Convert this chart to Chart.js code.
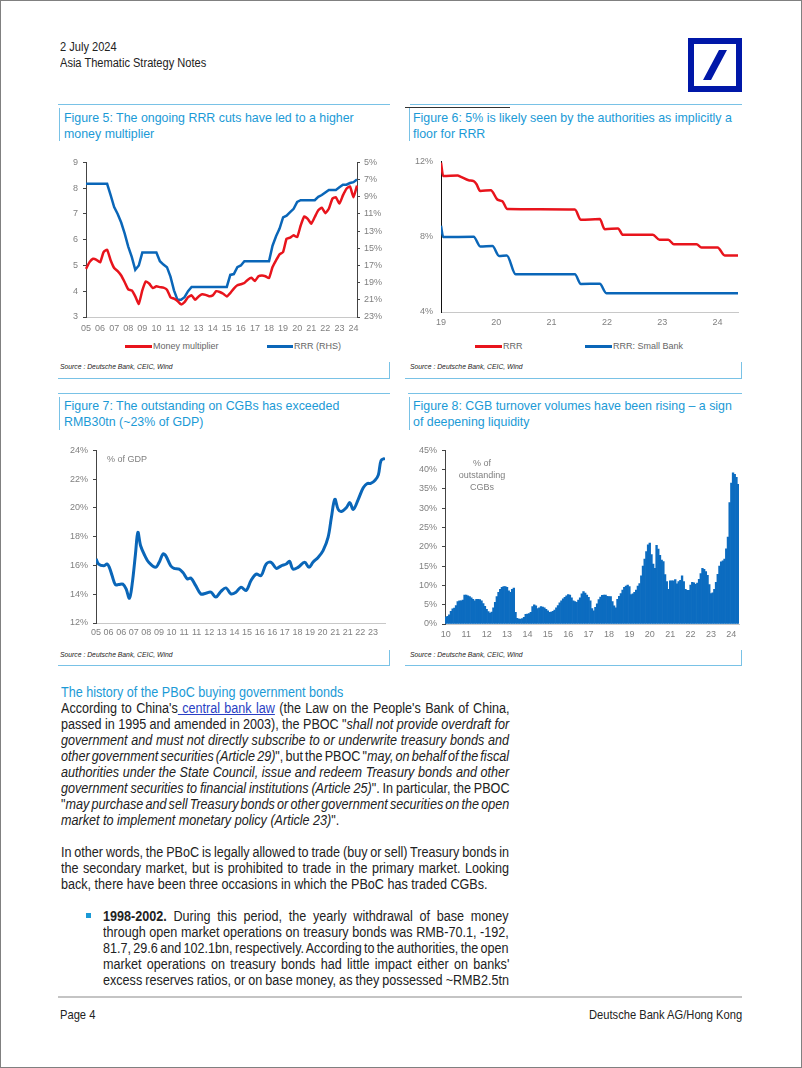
<!DOCTYPE html>
<html>
<head>
<meta charset="utf-8">
<script src="https://cdn.jsdelivr.net/npm/chart.js@4.4.1/dist/chart.umd.min.js"></script>
<style>
html, body { margin: 0; padding: 0; background: #fff; }
body { width: 802px; height: 1068px; position: relative; overflow: hidden; font-family: "Liberation Sans", Arial, sans-serif; color: #222; }
.frame { position: absolute; left: 0; top: 0; width: 800px; height: 1066px; border: 1px solid #808080; }
.abs { position: absolute; }
.cond { transform: scaleX(0.9); transform-origin: 0 0; white-space: nowrap; }
.hl { position: absolute; height: 1px; background: #79c2e6; }
.vl { position: absolute; width: 1px; background: #79c2e6; }
.ptitle { position: absolute; color: #1b9ad6; font-size: 12.4px; line-height: 16px; white-space: nowrap; }
.src { position: absolute; font-style: italic; font-size: 6.8px; line-height: 9px; color: #222; white-space: nowrap; }
.lg { position: absolute; height: 3px; }
.lgt { position: absolute; font-size: 9px; line-height: 12px; color: #666; white-space: nowrap; }
.note { position: absolute; font-size: 9px; line-height: 12px; color: #808080; text-align: center; white-space: nowrap; }
canvas { position: absolute; }
.text { position: absolute; font-size: 14px; line-height: 16px; color: #222; transform: scaleX(0.9); transform-origin: 0 0; white-space: nowrap; }
.text i { font-style: italic; }
.text a { color: #2a3fc4; text-decoration: underline; }
</style>
</head>
<body>
<div class="frame"></div>

<!-- header -->
<div class="abs cond" style="left:60px;top:39px;font-size:12.3px;line-height:16px;">2 July 2024</div>
<div class="abs cond" style="left:60px;top:55px;font-size:12.3px;line-height:16px;">Asia Thematic Strategy Notes</div>
<svg class="abs" style="left:688px;top:38px" width="54" height="54">
  <rect x="3" y="3" width="48" height="48" fill="none" stroke="#0018a8" stroke-width="6"/>
  <polygon points="15,42 23,42 39,12 31,12" fill="#0018a8"/>
</svg>

<!-- Figure 5 -->
<div class="hl" style="left:58px;top:104px;width:332px"></div>
<div class="vl" style="left:59px;top:108px;height:33px"></div>
<div class="ptitle" style="left:64px;top:110px">Figure 5: The ongoing RRR cuts have led to a higher<br>money multiplier</div>
<canvas id="fig5" width="330" height="185" style="left:62px;top:152px"></canvas>
<div class="lg" style="left:125px;top:345px;width:27px;background:#e8141c"></div>
<div class="lgt" style="left:153px;top:340px">Money multiplier</div>
<div class="lg" style="left:267px;top:345px;width:26px;background:#0a66b8"></div>
<div class="lgt" style="left:294px;top:340px">RRR (RHS)</div>
<div class="src" style="left:60px;top:362px">Source : Deutsche Bank, CEIC, Wind</div>
<div class="hl" style="left:58px;top:378px;width:332px"></div>
<div class="vl" style="left:389px;top:362px;height:16px"></div>

<!-- Figure 6 -->
<div class="hl" style="left:410px;top:104px;width:332px"></div>
<div class="abs" style="left:405px;top:107px;width:105px;height:1px;background:#333"></div>
<div class="vl" style="left:409px;top:108px;height:33px"></div>
<div class="ptitle" style="left:413px;top:110px">Figure 6: 5% is likely seen by the authorities as implicitly a<br>floor for RRR</div>
<canvas id="fig6" width="332" height="189" style="left:412px;top:148px"></canvas>
<div class="lg" style="left:475px;top:345px;width:27px;background:#e8141c"></div>
<div class="lgt" style="left:503px;top:340px">RRR</div>
<div class="lg" style="left:585px;top:345px;width:27px;background:#0a66b8"></div>
<div class="lgt" style="left:613px;top:340px">RRR: Small Bank</div>
<div class="src" style="left:410px;top:362px">Source : Deutsche Bank, CEIC, Wind</div>
<div class="hl" style="left:405px;top:378px;width:337px"></div>
<div class="vl" style="left:741px;top:362px;height:16px"></div>

<!-- Figure 7 -->
<div class="hl" style="left:58px;top:393px;width:332px"></div>
<div class="vl" style="left:59px;top:397px;height:33px"></div>
<div class="ptitle" style="left:64px;top:398px">Figure 7: The outstanding on CGBs has exceeded<br>RMB30tn (~23% of GDP)</div>
<canvas id="fig7" width="330" height="200" style="left:62px;top:440px"></canvas>
<div class="note" style="left:107px;top:453px;text-align:left">% of GDP</div>
<div class="src" style="left:60px;top:650px">Source : Deutsche Bank, CEIC, Wind</div>
<div class="hl" style="left:58px;top:665px;width:332px"></div>
<div class="vl" style="left:389px;top:650px;height:15px"></div>

<!-- Figure 8 -->
<div class="hl" style="left:408px;top:393px;width:334px"></div>
<div class="vl" style="left:409px;top:397px;height:33px"></div>
<div class="ptitle" style="left:413px;top:398px">Figure 8: CGB turnover volumes have been rising – a sign<br>of deepening liquidity</div>
<canvas id="fig8" width="332" height="200" style="left:412px;top:440px"></canvas>
<div class="note" style="left:452px;top:457px;width:60px">% of<br>outstanding<br>CGBs</div>
<div class="src" style="left:410px;top:650px">Source : Deutsche Bank, CEIC, Wind</div>
<div class="hl" style="left:405px;top:665px;width:337px"></div>
<div class="vl" style="left:741px;top:650px;height:15px"></div>

<!-- body text: column 61..509 (widths are before the 0.9 horizontal scale) -->
<div class="text" style="left:61px;top:684px;width:497.8px">
  <div style="color:#1b9ad6">The history of the PBoC buying government bonds</div>
  <div class="jl">According to China's<a> central bank law</a> (the Law on the People's Bank of China,</div>
  <div class="jl">passed in 1995 and amended in 2003), the PBOC "<i>shall not provide overdraft for</i></div>
  <div class="jl"><i>government and must not directly subscribe to or underwrite treasury bonds and</i></div>
  <div class="jl"><i>other government securities (Article 29)</i>", but the PBOC "<i>may, on behalf of the fiscal</i></div>
  <div class="jl"><i>authorities under the State Council, issue and redeem Treasury bonds and other</i></div>
  <div class="jl"><i>government securities to financial institutions (Article 25)</i>". In particular, the PBOC</div>
  <div class="jl">"<i>may purchase and sell Treasury bonds or other government securities on the open</i></div>
  <div><i>market to implement monetary policy (Article 23)</i>".</div>
  <div style="height:16px"></div>
  <div class="jl">In other words, the PBoC is legally allowed to trade (buy or sell) Treasury bonds in</div>
  <div class="jl">the secondary market, but is prohibited to trade in the primary market. Looking</div>
  <div>back, there have been three occasions in which the PBoC has traded CGBs.</div>
</div>
<div class="abs" style="left:86px;top:913px;width:5px;height:5px;background:#1b9ad6"></div>
<div class="text" style="left:103px;top:908px;width:451.1px">
  <div class="jl"><b>1998-2002.</b> During this period, the yearly withdrawal of base money</div>
  <div class="jl">through open market operations on treasury bonds was RMB-70.1, -192,</div>
  <div class="jl">81.7, 29.6 and 102.1bn, respectively. According to the authorities, the open</div>
  <div class="jl">market operations on treasury bonds had little impact either on banks'</div>
  <div class="jl">excess reserves ratios, or on base money, as they possessed ~RMB2.5tn</div>
</div>

<!-- footer -->
<div class="abs" style="left:58px;top:996px;width:684px;height:2px;background:#c4c4c4"></div>
<div class="abs cond" style="left:60px;top:1007px;font-size:12.4px;line-height:16px;">Page 4</div>
<div class="abs cond" style="right:60px;top:1007px;font-size:12.4px;line-height:16px;transform-origin:100% 0;">Deutsche Bank AG/Hong Kong</div>

<script>
// Figure 5: money multiplier and RRR, quarterly 2005Q1 - 2024Q2
const mmValues = [
  4.87, 5.13, 5.26, 5.22,  5.12, 5.52, 5.61, 5.2,   4.9, 4.78, 4.61, 4.35,
  4.07, 4.03, 3.8, 3.51,   4.03, 4.38, 4.29, 4.12,  4.19, 4.16, 4.14, 4.06,
  3.77, 3.71, 3.62, 3.49,  3.58, 3.77, 3.84, 3.67,  3.8, 3.88, 3.86, 3.81,
  3.84, 4.0, 3.97, 3.9,    3.8, 3.93, 4.1, 4.23,    4.27, 4.32, 4.45, 4.52,
  4.4, 4.58, 4.61, 4.58,   4.51, 4.94, 5.2, 5.43,   5.52, 6.04, 6.08, 6.17,
  6.1, 6.55, 6.9, 6.81,    6.62, 6.88, 7.14, 7.24,  7.03, 7.2, 7.59, 7.65,
  7.4, 7.72, 7.98, 8.07,   7.65, 8.1
];
const rrrValues = [
  7.5, 7.5, 7.5, 7.5,      7.5, 7.5, 7.5, 8.8,      10.2, 11, 12, 13.3,
  14.8, 16, 17.5, 17,      15.5, 15.5, 15.5, 15.5,  15.5, 16.5, 16.9, 17.2,
  18.3, 19.9, 21, 21,      20.7, 20, 19.5, 19.5,    19.5, 19.5, 19.5, 19.5,
  19.5, 19.5, 19.5, 19.5,  19.5, 18.1, 18, 17.2,    17, 16.5, 16.5, 16.5,
  16.5, 16.5, 16.5, 16.5,  16.5, 14.7, 13.6, 12.7,  11.4, 11.2, 10.8, 10.4,
  9.6, 9.4, 9.4, 9.4,      9.4, 9.4, 9.0, 8.8,      8.5, 8.2, 8.2, 8.2,
  7.9, 7.6, 7.6, 7.4,      7.3, 7.0
];

// Figure 6: RRR since 2019 (x in decimal years)
const rrrDates = [2019.0, 2019.04, 2019.3, 2019.36, 2019.5, 2019.59, 2019.64, 2019.71, 2019.9, 2020.02,
  2020.11, 2020.2, 2021.42, 2021.53, 2021.87, 2021.96, 2022.2, 2022.29, 2022.83, 2022.95,
  2023.11, 2023.21, 2023.62, 2023.71, 2024.0, 2024.13, 2024.37];
const rrrLevels = [11.93, 11.22, 11.25, 11.18, 11.0, 10.95, 10.8, 10.43, 10.47, 9.97,
  9.88, 9.47, 9.44, 8.9, 8.94, 8.4, 8.44, 8.1, 8.1, 7.84,
  7.84, 7.6, 7.6, 7.43, 7.43, 7.0, 7.0];
const smallDates = [2019.0, 2019.04, 2019.59, 2019.71, 2019.93, 2020.05, 2020.19, 2020.35, 2021.42, 2021.53, 2021.87, 2021.99, 2024.37];
const smallLevels = [8.58, 7.98, 8.0, 7.48, 7.5, 6.98, 7.0, 6.0, 6.0, 5.49, 5.5, 5.0, 5.0];
const fig6Years = [2019, 2020, 2021, 2022, 2023, 2024];

// Figure 7: CGB outstanding, % of GDP
const gdpDates = [2005.17, 2005.34, 2005.68, 2005.90, 2006.05, 2006.23, 2006.45, 2006.67, 2006.94,
  2007.16, 2007.38, 2007.56, 2007.78, 2007.94, 2008.12, 2008.40, 2008.67, 2009.11, 2009.34, 2009.60,
  2009.78, 2010.11, 2010.33, 2010.67, 2010.93, 2011.22, 2011.44, 2011.77, 2012.11, 2012.44, 2012.77,
  2013.10, 2013.44, 2013.77, 2014.10, 2014.43, 2014.77, 2015.10, 2015.43, 2015.77, 2016.10, 2016.43,
  2016.76, 2017.10, 2017.43, 2017.76, 2017.98, 2018.20, 2018.54, 2018.98, 2019.27, 2019.53, 2019.87,
  2020.20, 2020.53, 2020.75, 2020.98, 2021.20, 2021.42, 2021.75, 2021.97, 2022.20, 2022.53, 2022.86,
  2023.13, 2023.35, 2023.64, 2023.86, 2024.04, 2024.30];
const gdpShare = [16.45, 16.1, 15.98, 16.1, 15.87, 15.3, 14.67, 14.67, 14.7,
  14.37, 13.72, 14.7, 16.8, 18.3, 17.37, 16.68, 16.2, 15.87, 16.2, 16.8,
  16.68, 15.98, 15.8, 15.75, 15.5, 15.06, 15.13, 14.6, 14.02, 14.07, 14.14,
  13.8, 14.2, 14.44, 14.02, 14.14, 14.49, 14.26, 14.95, 15.4, 15.3, 16.1,
  16.22, 15.8, 15.98, 16.1, 16.29, 15.75, 15.87, 16.22, 15.87, 16.22, 16.56,
  17.03, 17.95, 19.33, 20.6, 19.9, 19.75, 20.03, 20.37, 19.9, 20.6, 21.4,
  21.7, 21.7, 21.92, 22.3, 23.3, 23.45];
const gdpTickLabels = ['05', '06', '06', '07', '08', '09', '10', '11', '11', '12', '13', '14',
  '15', '16', '16', '17', '18', '19', '20', '21', '21', '22', '23'];
const gdpStart = 2005 + 2 / 12;   // first tick, Mar-05
const gdpTickStep = 10 / 12;      // one tick every 10 months

// Figure 8: CGB turnover, % of outstanding, monthly from Jan 2010
const turnover = [
  1.8, 2.0, 2.4, 3.3, 3.9, 4.1, 4.8, 5.8, 6.0, 6.0, 6.2, 7.5,
  7.5, 7.3, 7.1, 6.8, 6.4, 6.0, 6.4, 6.4, 6.3, 6.0, 5.3, 4.6,
  3.8, 3.2, 2.8, 3.1, 4.2, 5.6, 7.1, 8.2, 9.0, 9.5, 9.7, 9.7,
  9.5, 8.6, 8.2, 9.0, 9.3, 3.0, 1.5, 1.3, 1.3, 1.4, 1.7, 2.5,
  2.6, 2.7, 3.0, 4.5, 5.0, 4.7, 4.0, 4.2, 4.5, 4.4, 4.2, 3.8,
  3.4, 3.0, 3.1, 3.3, 3.6, 4.2, 4.8, 5.5, 6.0, 6.5, 6.9, 7.3,
  7.6, 7.5, 6.8, 6.0, 5.8, 5.6, 6.2, 6.8, 7.8, 8.4, 8.0, 7.5,
  6.9, 6.0, 4.0, 3.4, 4.3, 5.2, 6.3, 7.0, 7.4, 7.5, 7.5, 7.2,
  7.1, 7.1, 5.8, 4.7, 4.2, 6.4, 7.2, 7.9, 8.8, 9.5, 9.8, 10.1,
  9.7, 7.6, 7.8, 8.2, 8.8, 9.8, 10.5, 12.5, 15.0, 16.8, 18.8, 20.5,
  21.0, 18.0, 15.5, 14.4, 20.4, 19.4, 17.8, 16.6, 16.2, 12.8, 11.0, 9.0,
  11.2, 11.2, 11.2, 11.5, 10.4, 11.0, 11.3, 12.5, 11.0, 9.0, 8.7, 8.7,
  10.1, 10.8, 10.7, 10.3, 10.6, 11.6, 13.1, 14.4, 14.2, 13.6, 12.6, 10.2,
  7.9, 8.1, 9.0, 10.8, 12.9, 15.0, 16.1, 16.4, 16.8, 19.5, 22.5, 31.5,
  36.5, 39.2, 38.8, 38.0, 36.2
];

const RED = '#e8141c';
const BLUE = '#0a66b8';
const FILL = '#0c6cc0';
const tickFont = { family: "'Liberation Sans', Arial, sans-serif", size: 9 };
const tickColor = '#808080';

// justify each text line to its column, squeezing or stretching word gaps
document.querySelectorAll('.jl').forEach(el => {
  const span = document.createElement('span');
  while (el.firstChild) span.appendChild(el.firstChild);
  el.appendChild(span);
  const gaps = (el.textContent.match(/ /g) || []).length;
  if (gaps) el.style.wordSpacing = ((el.clientWidth - span.offsetWidth) / gaps) + 'px';
});

Chart.defaults.animation = false;
Chart.defaults.plugins.legend.display = false;
Chart.defaults.plugins.tooltip.enabled = false;

function makeQuarters(startYear, count) {
  const out = [];
  for (let i = 0; i < count; i++) out.push((startYear + Math.floor(i / 4)) + 'Q' + (i % 4 + 1));
  return out;
}
function makeMonths(startYear, count) {
  const out = [];
  for (let i = 0; i < count; i++) out.push((startYear + Math.floor(i / 12)) + '-' + String(i % 12 + 1).padStart(2, '0'));
  return out;
}
function toPoints(xs, ys) {
  return xs.map((x, i) => ({ x: x, y: ys[i] }));
}
const setWidth = w => s => { s.width = w; };
const setHeight = h => s => { s.height = h; };

// y axis with small outside tick marks
function yAxis(extra) {
  return Object.assign({
    grid: { drawOnChartArea: false, drawTicks: true, tickLength: 3, color: '#444' },
    border: { display: true, color: '#444' },
  }, extra);
}
function xAxis(extra) {
  return Object.assign({
    grid: { display: false, drawTicks: false },
    border: { display: true, color: '#c8c8c8' },
  }, extra);
}

// ---- Figure 5
const quarters5 = makeQuarters(2005, mmValues.length);
new Chart(document.getElementById('fig5'), {
  type: 'line',
  data: {
    labels: quarters5,
    datasets: [
      { data: mmValues, borderColor: RED, borderWidth: 2.5, pointRadius: 0, tension: 0.15, yAxisID: 'y' },
      { data: rrrValues, borderColor: BLUE, borderWidth: 2.5, pointRadius: 0, tension: 0, yAxisID: 'y1' }
    ]
  },
  options: {
    responsive: false,
    layout: { padding: { top: 10 } },
    scales: {
      x: xAxis({
        offset: false,
        ticks: { autoSkip: false, maxRotation: 0, padding: 6, color: tickColor, font: tickFont,
          callback: (v, i) => i % 4 === 0 ? quarters5[i].slice(2, 4) : null },
        afterFit: setHeight(20)
      }),
      y: yAxis({
        position: 'left', min: 3, max: 9,
        ticks: { stepSize: 1, padding: 5, color: tickColor, font: tickFont },
        afterFit: setWidth(24)
      }),
      y1: yAxis({
        position: 'right', reverse: true, min: 5, max: 23,
        ticks: { stepSize: 2, padding: 4, color: tickColor, font: tickFont, callback: v => v + '%' },
        afterFit: setWidth(35)
      })
    }
  }
});

// ---- Figure 6
new Chart(document.getElementById('fig6'), {
  type: 'line',
  data: {
    datasets: [
      { data: toPoints(rrrDates, rrrLevels), borderColor: RED, borderWidth: 2.5, pointRadius: 0, cubicInterpolationMode: 'monotone' },
      { data: toPoints(smallDates, smallLevels), borderColor: BLUE, borderWidth: 2.5, pointRadius: 0, cubicInterpolationMode: 'monotone' }
    ]
  },
  options: {
    responsive: false,
    layout: { padding: { top: 0, right: 6 } },
    scales: {
      x: xAxis({
        type: 'linear', min: 2019, max: 2024.37,
        afterBuildTicks: s => { s.ticks = fig6Years.map(v => ({ value: v })); },
        ticks: { maxRotation: 0, padding: 5, color: tickColor, font: tickFont, callback: v => String(v).slice(2) },
        afterFit: setHeight(25)
      }),
      y: {
        min: 4, max: 12,
        grid: { display: false, drawTicks: false },
        border: { display: true, color: '#111' },
        ticks: { stepSize: 4, padding: 8, color: tickColor, font: tickFont, callback: v => v + '%' },
        afterFit: setWidth(29)
      }
    }
  }
});

// ---- Figure 7
new Chart(document.getElementById('fig7'), {
  type: 'line',
  data: {
    datasets: [
      { data: toPoints(gdpDates, gdpShare), borderColor: BLUE, borderWidth: 3, pointRadius: 0, tension: 0.35 }
    ]
  },
  options: {
    responsive: false,
    layout: { padding: { top: 9, right: 7 } },
    scales: {
      x: xAxis({
        type: 'linear', min: gdpStart, max: gdpDates[gdpDates.length - 1],
        afterBuildTicks: s => { s.ticks = gdpTickLabels.map((_, i) => ({ value: gdpStart + i * gdpTickStep })); },
        ticks: { autoSkip: false, maxRotation: 0, padding: 4, color: tickColor, font: tickFont,
          callback: (v, i) => gdpTickLabels[i] },
        afterFit: setHeight(17)
      }),
      y: yAxis({
        min: 12, max: 24,
        ticks: { stepSize: 2, padding: 5, color: tickColor, font: tickFont, callback: v => v + '%' },
        afterFit: setWidth(34)
      })
    }
  }
});

// ---- Figure 8
const months8 = makeMonths(2010, turnover.length);
new Chart(document.getElementById('fig8'), {
  type: 'bar',
  data: {
    labels: months8,
    datasets: [
      { data: turnover, backgroundColor: FILL, barPercentage: 1, categoryPercentage: 1, borderWidth: 0 }
    ]
  },
  options: {
    responsive: false,
    layout: { padding: { top: 9, right: 5 } },
    scales: {
      x: xAxis({
        ticks: { autoSkip: false, maxRotation: 0, padding: 5, color: tickColor, font: tickFont,
          callback: (v, i) => i % 12 === 0 ? months8[i].slice(2, 4) : null },
        afterFit: setHeight(16)
      }),
      y: yAxis({
        min: 0, max: 45,
        ticks: { stepSize: 5, padding: 5, color: tickColor, font: tickFont, callback: v => v + '%' },
        afterFit: setWidth(33)
      })
    }
  }
});
</script>
</body>
</html>
